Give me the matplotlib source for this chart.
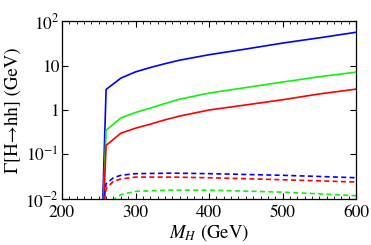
import numpy as np
import matplotlib
matplotlib.use('Agg')
import matplotlib.pyplot as plt
from matplotlib.ticker import FixedLocator, FixedFormatter, MultipleLocator, NullLocator

plt.rcParams['font.family'] = ['STIXGeneral', 'DejaVu Serif']
plt.rcParams['mathtext.fontset'] = 'stix'

# ── data ────────────────────────────────────────────────────────────────────
m_solid = [252, 260, 280, 300, 320, 340, 360, 400, 450, 500, 550, 600]
blue_solid = [1e-4, 2.9, 5.2, 7.2, 9.0, 11.0, 13.2, 17.5, 23.5, 32, 42, 56]
green_solid = [1e-4, 0.35, 0.66, 0.88, 1.1, 1.4, 1.75, 2.4, 3.2, 4.25, 5.6, 7.1]
red_solid = [1e-4, 0.16, 0.30, 0.39, 0.48, 0.6, 0.73, 1.0, 1.3, 1.7, 2.3, 2.95]

m_dash = [255, 260, 270, 280, 300, 350, 400, 450, 500, 550, 600]
blue_dash = [0.005, 0.022, 0.030, 0.034, 0.037, 0.038, 0.037, 0.0355, 0.034, 0.032, 0.030]
red_dash = [0.004, 0.017, 0.025, 0.028, 0.031, 0.031, 0.030, 0.0285, 0.027, 0.0255, 0.024]
m_dash_g = [262, 268, 280, 300, 350, 400, 450, 500, 550, 600]
green_dash = [0.004, 0.009, 0.0125, 0.0148, 0.0158, 0.0157, 0.015, 0.0142, 0.013, 0.0118]

yticks = [1e-2, 1e-1, 1, 10, 100]
ylabels = [r'$10^{-2}$', r'$10^{-1}$', '1', '10', r'$10^{2}$']

# ── plot ─────────────────────────────────────────────────────────────────────
fig = plt.figure(figsize=(3.71, 2.45), dpi=100)
ax = fig.add_axes([0.167, 0.188, 0.793, 0.726])

lw = 1.2
green = '#11f011'
ax.plot(m_solid, blue_solid, color='#0000ff', lw=lw)
ax.plot(m_solid, green_solid, color=green, lw=lw)
ax.plot(m_solid, red_solid, color='#ff0000', lw=lw)
ax.plot(m_dash, blue_dash, color='#0000ff', lw=lw, ls=(0, (3, 2)))
ax.plot(m_dash, red_dash, color='#ff0000', lw=lw, ls=(0, (3, 2)))
ax.plot(m_dash_g, green_dash, color=green, lw=lw, ls=(0, (3, 2)))

ax.set_yscale('log')
ax.set_xlim(200, 600)
ax.set_ylim(1e-2, 1e2)
ax.xaxis.set_major_locator(MultipleLocator(100))
ax.xaxis.set_minor_locator(MultipleLocator(10))
ax.yaxis.set_major_locator(FixedLocator(yticks))
ax.yaxis.set_major_formatter(FixedFormatter(ylabels))
ax.yaxis.set_minor_locator(NullLocator())

ax.tick_params(which='both', direction='in', top=True, right=True, labelsize=12.5)
ax.tick_params(axis='y', pad=2)
ax.tick_params(axis='x', pad=4)
ax.tick_params(which='major', length=4, width=0.8)
ax.tick_params(which='minor', length=2, width=0.6)
for s in ax.spines.values():
    s.set_linewidth(0.9)

ax.set_xlabel(r'$M_H$ (GeV)', fontsize=13.5, labelpad=1)
ax.set_ylabel('Γ[H→hh] (GeV)', fontsize=13.5, labelpad=3)

plt.savefig('out.png', dpi=100)
plt.close()
